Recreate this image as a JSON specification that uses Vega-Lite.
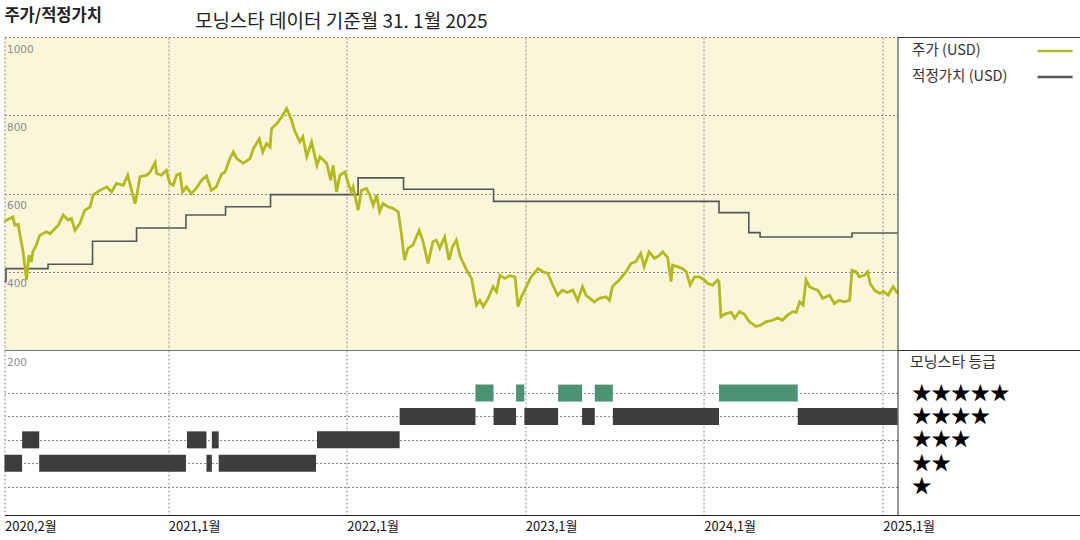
{
  "$schema": "https://vega.github.io/schema/vega-lite/v6.json",
  "background": "white",
  "padding": {"left": -1.5, "top": 8, "right": 0, "bottom": 0},
  "bounds": "flush",
  "spacing": 0,
  "columns": 2,
  "title": {"text": "주가/적정가치", "anchor": "start", "fontSize": 16.5, "fontWeight": "bold", "font": "Noto Sans CJK KR", "color": "#222", "offset": 4, "dy": 16, "dx": 5.5},
  "config": {
    "font": "Noto Sans CJK KR",
    "view": {"stroke": null},
    "axis": {"gridDash": [2, 2], "gridColor": "#8a8a8a", "gridWidth": 1, "ticks": false, "tickSize": 0, "domain": false, "title": null}
  },
  "datasets": {
    "price": [
      {"date": "2020-02-01", "value": 528}, {"date": "2020-02-10", "value": 535}, {"date": "2020-02-18", "value": 540}, {"date": "2020-02-22", "value": 519}, {"date": "2020-02-29", "value": 521},
      {"date": "2020-03-05", "value": 485}, {"date": "2020-03-10", "value": 451}, {"date": "2020-03-17", "value": 379}, {"date": "2020-03-22", "value": 442}, {"date": "2020-03-27", "value": 425},
      {"date": "2020-03-30", "value": 451}, {"date": "2020-04-06", "value": 468}, {"date": "2020-04-13", "value": 493}, {"date": "2020-04-20", "value": 498}, {"date": "2020-04-27", "value": 502},
      {"date": "2020-05-04", "value": 497}, {"date": "2020-05-11", "value": 506}, {"date": "2020-05-21", "value": 519}, {"date": "2020-05-31", "value": 545}, {"date": "2020-06-10", "value": 532},
      {"date": "2020-06-17", "value": 536}, {"date": "2020-06-24", "value": 506}, {"date": "2020-07-04", "value": 523}, {"date": "2020-07-14", "value": 557}, {"date": "2020-07-25", "value": 566},
      {"date": "2020-07-31", "value": 596}, {"date": "2020-08-14", "value": 608}, {"date": "2020-08-28", "value": 617}, {"date": "2020-09-07", "value": 604}, {"date": "2020-09-17", "value": 626},
      {"date": "2020-10-01", "value": 621}, {"date": "2020-10-10", "value": 647}, {"date": "2020-10-18", "value": 608}, {"date": "2020-10-25", "value": 574}, {"date": "2020-10-31", "value": 613},
      {"date": "2020-11-04", "value": 643}, {"date": "2020-11-18", "value": 647}, {"date": "2020-11-25", "value": 655}, {"date": "2020-12-05", "value": 679}, {"date": "2020-12-08", "value": 651},
      {"date": "2020-12-18", "value": 647}, {"date": "2020-12-28", "value": 659}, {"date": "2021-01-04", "value": 626}, {"date": "2021-01-11", "value": 621}, {"date": "2021-01-18", "value": 647},
      {"date": "2021-01-25", "value": 651}, {"date": "2021-01-30", "value": 604}, {"date": "2021-02-07", "value": 617}, {"date": "2021-02-17", "value": 600}, {"date": "2021-02-27", "value": 613},
      {"date": "2021-03-10", "value": 634}, {"date": "2021-03-20", "value": 645}, {"date": "2021-03-30", "value": 608}, {"date": "2021-04-09", "value": 617}, {"date": "2021-04-20", "value": 650},
      {"date": "2021-04-27", "value": 655}, {"date": "2021-05-07", "value": 690}, {"date": "2021-05-14", "value": 706}, {"date": "2021-05-21", "value": 689}, {"date": "2021-06-03", "value": 677},
      {"date": "2021-06-17", "value": 689}, {"date": "2021-06-24", "value": 715}, {"date": "2021-07-06", "value": 740}, {"date": "2021-07-13", "value": 706}, {"date": "2021-07-21", "value": 728},
      {"date": "2021-07-28", "value": 719}, {"date": "2021-07-31", "value": 766}, {"date": "2021-08-11", "value": 779}, {"date": "2021-08-21", "value": 796}, {"date": "2021-08-31", "value": 817},
      {"date": "2021-09-10", "value": 787}, {"date": "2021-09-17", "value": 758}, {"date": "2021-09-27", "value": 732}, {"date": "2021-10-03", "value": 745}, {"date": "2021-10-11", "value": 694},
      {"date": "2021-10-21", "value": 732}, {"date": "2021-11-01", "value": 672}, {"date": "2021-11-07", "value": 694}, {"date": "2021-11-21", "value": 677}, {"date": "2021-11-29", "value": 634},
      {"date": "2021-12-04", "value": 672}, {"date": "2021-12-11", "value": 604}, {"date": "2021-12-18", "value": 647}, {"date": "2021-12-28", "value": 655}, {"date": "2022-01-03", "value": 630},
      {"date": "2022-01-10", "value": 604}, {"date": "2022-01-14", "value": 617}, {"date": "2022-01-24", "value": 557}, {"date": "2022-01-31", "value": 608}, {"date": "2022-02-10", "value": 613},
      {"date": "2022-02-17", "value": 596}, {"date": "2022-02-24", "value": 570}, {"date": "2022-03-03", "value": 596}, {"date": "2022-03-09", "value": 553}, {"date": "2022-03-16", "value": 574},
      {"date": "2022-03-26", "value": 566}, {"date": "2022-04-05", "value": 562}, {"date": "2022-04-16", "value": 553}, {"date": "2022-04-23", "value": 493}, {"date": "2022-04-29", "value": 430},
      {"date": "2022-05-06", "value": 460}, {"date": "2022-05-16", "value": 468}, {"date": "2022-05-29", "value": 506}, {"date": "2022-06-06", "value": 477}, {"date": "2022-06-16", "value": 421},
      {"date": "2022-06-26", "value": 477}, {"date": "2022-07-03", "value": 481}, {"date": "2022-07-10", "value": 460}, {"date": "2022-07-20", "value": 489}, {"date": "2022-07-29", "value": 430},
      {"date": "2022-08-05", "value": 464}, {"date": "2022-08-13", "value": 481}, {"date": "2022-08-21", "value": 438}, {"date": "2022-09-03", "value": 404}, {"date": "2022-09-13", "value": 383},
      {"date": "2022-09-23", "value": 315}, {"date": "2022-09-30", "value": 327}, {"date": "2022-10-07", "value": 311}, {"date": "2022-10-17", "value": 332}, {"date": "2022-10-27", "value": 362},
      {"date": "2022-11-03", "value": 349}, {"date": "2022-11-10", "value": 391}, {"date": "2022-11-20", "value": 383}, {"date": "2022-11-30", "value": 390}, {"date": "2022-12-11", "value": 387},
      {"date": "2022-12-17", "value": 311}, {"date": "2022-12-24", "value": 336}, {"date": "2023-01-03", "value": 362}, {"date": "2023-01-13", "value": 387}, {"date": "2023-01-27", "value": 408},
      {"date": "2023-02-06", "value": 400}, {"date": "2023-02-16", "value": 396}, {"date": "2023-02-26", "value": 366}, {"date": "2023-03-08", "value": 340}, {"date": "2023-03-18", "value": 353},
      {"date": "2023-03-28", "value": 347}, {"date": "2023-04-08", "value": 353}, {"date": "2023-04-18", "value": 327}, {"date": "2023-04-28", "value": 362}, {"date": "2023-05-05", "value": 340},
      {"date": "2023-05-22", "value": 323}, {"date": "2023-06-01", "value": 332}, {"date": "2023-06-15", "value": 336}, {"date": "2023-06-22", "value": 327}, {"date": "2023-06-28", "value": 362},
      {"date": "2023-07-12", "value": 379}, {"date": "2023-07-26", "value": 400}, {"date": "2023-08-05", "value": 421}, {"date": "2023-08-15", "value": 426}, {"date": "2023-08-25", "value": 447},
      {"date": "2023-09-01", "value": 413}, {"date": "2023-09-11", "value": 451}, {"date": "2023-09-22", "value": 434}, {"date": "2023-10-02", "value": 442}, {"date": "2023-10-09", "value": 451},
      {"date": "2023-10-19", "value": 436}, {"date": "2023-10-26", "value": 375}, {"date": "2023-10-29", "value": 417}, {"date": "2023-11-08", "value": 413}, {"date": "2023-11-19", "value": 408},
      {"date": "2023-11-26", "value": 400}, {"date": "2023-12-04", "value": 366}, {"date": "2023-12-13", "value": 387}, {"date": "2023-12-23", "value": 387}, {"date": "2024-01-02", "value": 379},
      {"date": "2024-01-09", "value": 370}, {"date": "2024-01-19", "value": 366}, {"date": "2024-01-29", "value": 379}, {"date": "2024-02-01", "value": 375}, {"date": "2024-02-05", "value": 285},
      {"date": "2024-02-15", "value": 293}, {"date": "2024-02-26", "value": 296}, {"date": "2024-03-04", "value": 281}, {"date": "2024-03-14", "value": 298}, {"date": "2024-03-24", "value": 291},
      {"date": "2024-04-03", "value": 272}, {"date": "2024-04-17", "value": 260}, {"date": "2024-04-27", "value": 264}, {"date": "2024-05-07", "value": 272}, {"date": "2024-05-21", "value": 276},
      {"date": "2024-05-31", "value": 282}, {"date": "2024-06-10", "value": 276}, {"date": "2024-06-20", "value": 289}, {"date": "2024-07-01", "value": 298}, {"date": "2024-07-08", "value": 296},
      {"date": "2024-07-15", "value": 323}, {"date": "2024-07-22", "value": 315}, {"date": "2024-07-28", "value": 379}, {"date": "2024-08-04", "value": 362}, {"date": "2024-08-11", "value": 357},
      {"date": "2024-08-21", "value": 353}, {"date": "2024-08-31", "value": 332}, {"date": "2024-09-14", "value": 340}, {"date": "2024-09-24", "value": 319}, {"date": "2024-10-04", "value": 327},
      {"date": "2024-10-15", "value": 323}, {"date": "2024-10-25", "value": 327}, {"date": "2024-10-30", "value": 404}, {"date": "2024-11-07", "value": 400}, {"date": "2024-11-14", "value": 387},
      {"date": "2024-11-24", "value": 391}, {"date": "2024-12-01", "value": 400}, {"date": "2024-12-06", "value": 370}, {"date": "2024-12-15", "value": 353}, {"date": "2024-12-25", "value": 345},
      {"date": "2025-01-03", "value": 349}, {"date": "2025-01-12", "value": 340}, {"date": "2025-01-22", "value": 362}, {"date": "2025-01-31", "value": 345}
    ],
    "fair": [
      {"date": "2020-02-01", "value": 375}, {"date": "2020-02-04", "value": 408}, {"date": "2020-04-30", "value": 419}, {"date": "2020-07-30", "value": 478},
      {"date": "2020-10-28", "value": 512}, {"date": "2021-02-06", "value": 545}, {"date": "2021-04-28", "value": 566}, {"date": "2021-07-29", "value": 597},
      {"date": "2022-01-24", "value": 640}, {"date": "2022-04-27", "value": 611}, {"date": "2022-10-28", "value": 580}, {"date": "2024-02-01", "value": 551},
      {"date": "2024-04-02", "value": 500}, {"date": "2024-04-25", "value": 489}, {"date": "2024-10-30", "value": 499}, {"date": "2025-01-31", "value": 499}
    ],
    "rating": [
      {"start": "2020-02-01", "end": "2020-03-08", "rating": 2}, {"start": "2020-04-12", "end": "2021-02-06", "rating": 2},
      {"start": "2021-03-20", "end": "2021-03-31", "rating": 2}, {"start": "2021-04-14", "end": "2021-10-30", "rating": 2},
      {"start": "2020-03-08", "end": "2020-04-12", "rating": 3}, {"start": "2021-02-08", "end": "2021-03-20", "rating": 3},
      {"start": "2021-03-31", "end": "2021-04-14", "rating": 3}, {"start": "2021-11-01", "end": "2022-04-19", "rating": 3},
      {"start": "2022-04-19", "end": "2022-09-21", "rating": 4}, {"start": "2022-10-28", "end": "2022-12-13", "rating": 4},
      {"start": "2022-12-30", "end": "2023-03-09", "rating": 4}, {"start": "2023-04-27", "end": "2023-05-23", "rating": 4},
      {"start": "2023-06-29", "end": "2024-02-01", "rating": 4}, {"start": "2024-07-11", "end": "2025-01-31", "rating": 4},
      {"start": "2022-09-21", "end": "2022-10-28", "rating": 5}, {"start": "2022-12-13", "end": "2022-12-30", "rating": 5},
      {"start": "2023-03-09", "end": "2023-04-27", "rating": 5}, {"start": "2023-05-23", "end": "2023-06-29", "rating": 5},
      {"start": "2024-02-01", "end": "2024-07-11", "rating": 5}
    ]
  },
  "concat": [
    {
      "width": 893,
      "height": 313,
      "view": {"fill": "#faf6da", "stroke": null},
      "title": {"text": "모닝스타 데이터 기준월 31. 1월 2025", "anchor": "start", "dx": 196, "fontSize": 19, "fontWeight": "normal", "color": "#222", "offset": 5.5, "font": "Noto Sans CJK KR"},
      "layer": [
        {
          "data": {"name": "fair"},
          "mark": {"type": "line", "interpolate": "step-after", "strokeWidth": 1.6},
          "encoding": {
            "x": {"field": "date", "type": "temporal",
              "scale": {"type": "utc", "domain": [{"year": 2020, "month": 2, "date": 1, "utc": true}, {"year": 2025, "month": 1, "date": 31, "utc": true}]},
              "axis": {"orient": "bottom", "values": [{"year": 2020, "month": 2, "date": 1, "utc": true}, {"year": 2021, "month": 1, "date": 1, "utc": true}, {"year": 2022, "month": 1, "date": 1, "utc": true}, {"year": 2023, "month": 1, "date": 1, "utc": true}, {"year": 2024, "month": 1, "date": 1, "utc": true}, {"year": 2025, "month": 1, "date": 1, "utc": true}],
                "grid": true, "labels": false, "domain": true, "domainColor": "#777", "domainWidth": 1}},
            "y": {"field": "value", "type": "quantitative", "scale": {"domain": [200, 1000], "nice": false, "zero": false},
              "axis": {"values": [200, 400, 600, 800, 1000], "format": "d", "grid": true, "labelAlign": "left", "labelBaseline": "top", "labelPadding": -2, "labelOffset": 7, "labelColor": "#8c8c8c", "labelFontSize": 10.5, "labelFont": "DejaVu Sans", "labelFlush": false, "labelOverlap": false}},
            "color": {"datum": "적정가치 (USD)", "type": "nominal",
              "scale": {"domain": ["주가 (USD)", "적정가치 (USD)"], "range": ["#b3bb1c", "#555555"]},
              "legend": {"orient": "none", "legendX": 911.6, "legendY": -5, "title": null, "symbolType": "stroke", "symbolSize": 1225, "symbolStrokeWidth": 2.5, "symbolOffset": 120, "labelOffset": -162, "labelFontSize": 14.5, "labelColor": "#333", "labelFont": "Noto Sans CJK KR", "rowPadding": -4, "labelLimit": 300}}
          }
        },
        {
          "data": {"name": "price"},
          "mark": {"type": "line", "strokeWidth": 2.8},
          "encoding": {
            "x": {"field": "date", "type": "temporal"},
            "y": {"field": "value", "type": "quantitative"},
            "color": {"datum": "주가 (USD)", "type": "nominal"}
          }
        }
      ]
    },
    {
      "width": 183,
      "height": 313,
      "data": {"values": [{}]},
      "mark": {"type": "point", "opacity": 0},
      "view": {"stroke": "#333", "strokeWidth": 1}
    },
    {
      "width": 893,
      "height": 165,
      "data": {"name": "rating"},
      "mark": {"type": "bar", "size": 17},
      "encoding": {
        "x": {"field": "start", "type": "temporal",
          "scale": {"type": "utc", "domain": [{"year": 2020, "month": 2, "date": 1, "utc": true}, {"year": 2025, "month": 1, "date": 31, "utc": true}]},
          "axis": {"orient": "bottom", "values": [{"year": 2020, "month": 2, "date": 1, "utc": true}, {"year": 2021, "month": 1, "date": 1, "utc": true}, {"year": 2022, "month": 1, "date": 1, "utc": true}, {"year": 2023, "month": 1, "date": 1, "utc": true}, {"year": 2024, "month": 1, "date": 1, "utc": true}, {"year": 2025, "month": 1, "date": 1, "utc": true}],
            "grid": true, "domain": true, "domainColor": "#222", "domainWidth": 1,
            "labelExpr": "utcFormat(datum.value, '%Y,%-m월')", "labelAlign": "left", "labelBaseline": "top", "labelPadding": 5, "labelFontSize": 13, "labelColor": "#111", "labelFlush": false, "labelOverlap": false, "labelFont": "Noto Sans CJK KR"}},
        "x2": {"field": "end"},
        "y": {"field": "rating", "type": "quantitative", "scale": {"domain": [0, 6.63], "nice": false},
          "axis": {"orient": "right", "values": [1, 2, 3, 4, 5], "grid": true, "labelAlign": "left", "labelBaseline": "middle", "labelPadding": 14, "labelFontSize": 19.5, "labelColor": "#000", "labelFont": "Noto Sans CJK KR", "labelOverlap": false, "labelFlush": false,
            "labelExpr": "['', '★', '★★', '★★★', '★★★★', '★★★★★'][datum.value]",
            "title": "모닝스타 등급", "titleAngle": 0, "titleAlign": "left", "titleBaseline": "middle", "titleX": 12, "titleY": 11.5, "titleFontSize": 15, "titleFontWeight": "normal", "titleColor": "#333", "titleFont": "Noto Sans CJK KR"}},
        "color": {"condition": {"test": "datum.rating === 5", "value": "#4b9473"}, "value": "#3d3d3d"}
      }
    },
    {
      "width": 183,
      "height": 165,
      "data": {"values": [{}]},
      "mark": {"type": "point", "opacity": 0},
      "view": {"stroke": "#333", "strokeWidth": 1}
    }
  ]
}
